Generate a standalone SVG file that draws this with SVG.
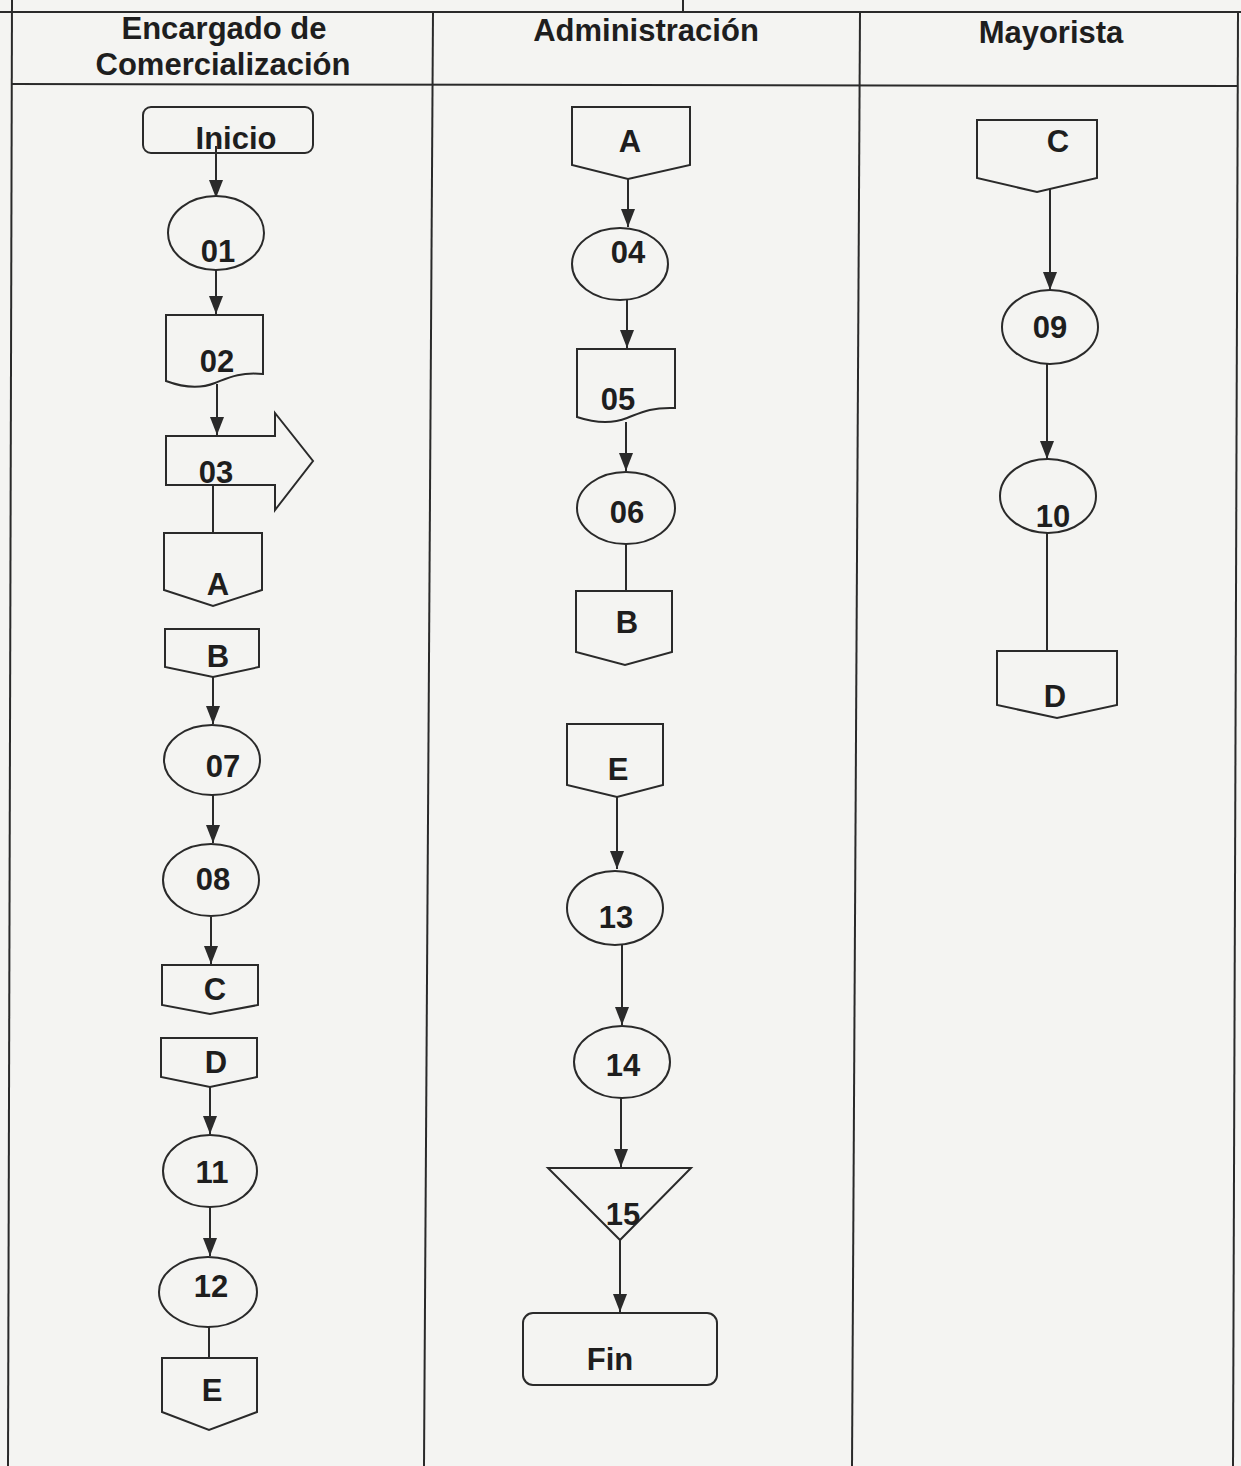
<svg xmlns="http://www.w3.org/2000/svg" width="1241" height="1466" viewBox="0 0 1241 1466">
<style>
.bg{fill:#f4f4f2}
.frame{stroke:#2a2a2a;stroke-width:2;fill:none}
.shape{fill:#f4f4f2;stroke:#2a2a2a;stroke-width:2}
.conn{stroke:#2a2a2a;stroke-width:2;fill:none}
.hdr{font-family:"Liberation Sans",Arial,sans-serif;font-weight:bold;font-size:31px;fill:#1e1e1e;text-anchor:middle}
.lbl{font-family:"Liberation Sans",Arial,sans-serif;font-weight:bold;font-size:31px;fill:#1e1e1e;text-anchor:middle}
</style>
<defs>
<marker id="ah" viewBox="0 0 18 14" refX="18" refY="7" markerWidth="18" markerHeight="14" markerUnits="userSpaceOnUse" orient="auto">
<path d="M0,0 L18,7 L0,14 Z" fill="#2a2a2a"/>
</marker>
</defs>
<rect class="bg" x="0" y="0" width="1241" height="1466"/>
<g id="frame">
<line class="frame" x1="0" y1="12" x2="1241" y2="12"/>
<line class="frame" x1="683" y1="0" x2="683" y2="12"/>
<line class="frame" x1="12" y1="84" x2="1238" y2="86"/>
<line class="frame" x1="12" y1="0" x2="8" y2="1466"/>
<line class="frame" x1="433" y1="12" x2="424" y2="1466"/>
<line class="frame" x1="860" y1="12" x2="852" y2="1466"/>
<line class="frame" x1="1238" y1="12" x2="1233" y2="1466"/>
</g>
<g id="headers">
<text class="hdr" x="224" y="39">Encargado de</text>
<text class="hdr" x="223" y="75">Comercialización</text>
<text class="hdr" x="646" y="41">Administración</text>
<text class="hdr" x="1051" y="43">Mayorista</text>
</g>
<g id="connectors">
<line class="conn" x1="216" y1="146" x2="216" y2="198" marker-end="url(#ah)"/>
<line class="conn" x1="216" y1="270" x2="216" y2="314" marker-end="url(#ah)"/>
<line class="conn" x1="217" y1="384" x2="217" y2="435" marker-end="url(#ah)"/>
<line class="conn" x1="213" y1="484" x2="213" y2="533"/>
<line class="conn" x1="213" y1="677" x2="213" y2="724" marker-end="url(#ah)"/>
<line class="conn" x1="213" y1="795" x2="213" y2="843" marker-end="url(#ah)"/>
<line class="conn" x1="211" y1="917" x2="211" y2="964" marker-end="url(#ah)"/>
<line class="conn" x1="210" y1="1087" x2="210" y2="1134" marker-end="url(#ah)"/>
<line class="conn" x1="210" y1="1207" x2="210" y2="1256" marker-end="url(#ah)"/>
<line class="conn" x1="209" y1="1320" x2="209" y2="1358"/>
<line class="conn" x1="628" y1="179" x2="628" y2="227" marker-end="url(#ah)"/>
<line class="conn" x1="627" y1="300" x2="627" y2="348" marker-end="url(#ah)"/>
<line class="conn" x1="626" y1="422" x2="626" y2="471" marker-end="url(#ah)"/>
<line class="conn" x1="626" y1="543" x2="626" y2="591"/>
<line class="conn" x1="617" y1="797" x2="617" y2="869" marker-end="url(#ah)"/>
<line class="conn" x1="622" y1="945" x2="622" y2="1025" marker-end="url(#ah)"/>
<line class="conn" x1="621" y1="1098" x2="621" y2="1167" marker-end="url(#ah)"/>
<line class="conn" x1="620" y1="1240" x2="620" y2="1312" marker-end="url(#ah)"/>
<line class="conn" x1="1050" y1="188" x2="1050" y2="290" marker-end="url(#ah)"/>
<line class="conn" x1="1047" y1="364" x2="1047" y2="459" marker-end="url(#ah)"/>
<line class="conn" x1="1047" y1="533" x2="1047" y2="651"/>
</g>
<g id="n-inicio"><rect class="shape" x="143" y="107" width="170" height="46" rx="8" fill-opacity="0"/><text class="lbl" x="236" y="149">Inicio</text></g>
<g id="n-01"><ellipse class="shape" cx="216" cy="233" rx="48" ry="37"/><text class="lbl" x="218" y="262">01</text></g>
<g id="n-02"><path class="shape" d="M166,315 H263 V374 C238,372 228,378 215,383 C200,389 182,387 166,381 Z"/><text class="lbl" x="217" y="372">02</text></g>
<g id="n-03"><path class="shape" d="M166,436 H275 V413 L313,461 L275,510 V485 H166 Z"/><text class="lbl" x="216" y="483">03</text></g>
<g id="n-A1"><path class="shape" d="M164,533 H262 V590 L213,606 L164,590 Z"/><text class="lbl" x="218" y="595">A</text></g>
<g id="n-B1"><path class="shape" d="M165,629 H259 V667 L213,677 L165,667 Z"/><text class="lbl" x="218" y="667">B</text></g>
<g id="n-07"><ellipse class="shape" cx="212" cy="760" rx="48" ry="35"/><text class="lbl" x="223" y="777">07</text></g>
<g id="n-08"><ellipse class="shape" cx="211" cy="880" rx="48" ry="36"/><text class="lbl" x="213" y="890">08</text></g>
<g id="n-C1"><path class="shape" d="M162,965 H258 V1005 L210,1014 L162,1005 Z"/><text class="lbl" x="215" y="1000">C</text></g>
<g id="n-D1"><path class="shape" d="M161,1038 H257 V1077 L210,1087 L161,1077 Z"/><text class="lbl" x="216" y="1073">D</text></g>
<g id="n-11"><ellipse class="shape" cx="210" cy="1171" rx="47" ry="36"/><text class="lbl" x="212" y="1183">11</text></g>
<g id="n-12"><ellipse class="shape" cx="208" cy="1292" rx="49" ry="35"/><text class="lbl" x="211" y="1297">12</text></g>
<g id="n-E1"><path class="shape" d="M162,1358 H257 V1412 L209,1430 L162,1412 Z"/><text class="lbl" x="212" y="1401">E</text></g>
<g id="n-A2"><path class="shape" d="M572,107 H690 V165 L628,179 L572,165 Z"/><text class="lbl" x="630" y="152">A</text></g>
<g id="n-04"><ellipse class="shape" cx="620" cy="264" rx="48" ry="36"/><text class="lbl" x="628" y="263">04</text></g>
<g id="n-05"><path class="shape" d="M577,349 H675 V408 C650,407 640,413 627,418 C612,424 595,423 577,417 Z"/><text class="lbl" x="618" y="410">05</text></g>
<g id="n-06"><ellipse class="shape" cx="626" cy="508" rx="49" ry="36"/><text class="lbl" x="627" y="523">06</text></g>
<g id="n-B2"><path class="shape" d="M576,591 H672 V652 L625,665 L576,652 Z"/><text class="lbl" x="627" y="633">B</text></g>
<g id="n-E2"><path class="shape" d="M567,724 H663 V785 L617,797 L567,785 Z"/><text class="lbl" x="618" y="780">E</text></g>
<g id="n-13"><ellipse class="shape" cx="615" cy="908" rx="48" ry="37"/><text class="lbl" x="616" y="928">13</text></g>
<g id="n-14"><ellipse class="shape" cx="622" cy="1062" rx="48" ry="36"/><text class="lbl" x="623" y="1076">14</text></g>
<g id="n-15"><path class="shape" d="M548,1168 H691 L620,1240 Z"/><text class="lbl" x="623" y="1225">15</text></g>
<g id="n-fin"><rect class="shape" x="523" y="1313" width="194" height="72" rx="10"/><text class="lbl" x="610" y="1370">Fin</text></g>
<g id="n-C3"><path class="shape" d="M977,120 H1097 V178 L1037,192 L977,178 Z"/><text class="lbl" x="1058" y="152">C</text></g>
<g id="n-09"><ellipse class="shape" cx="1050" cy="327" rx="48" ry="37"/><text class="lbl" x="1050" y="338">09</text></g>
<g id="n-10"><ellipse class="shape" cx="1048" cy="496" rx="48" ry="37"/><text class="lbl" x="1053" y="527">10</text></g>
<g id="n-D3"><path class="shape" d="M997,651 H1117 V705 L1057,718 L997,705 Z"/><text class="lbl" x="1055" y="707">D</text></g>
</svg>
